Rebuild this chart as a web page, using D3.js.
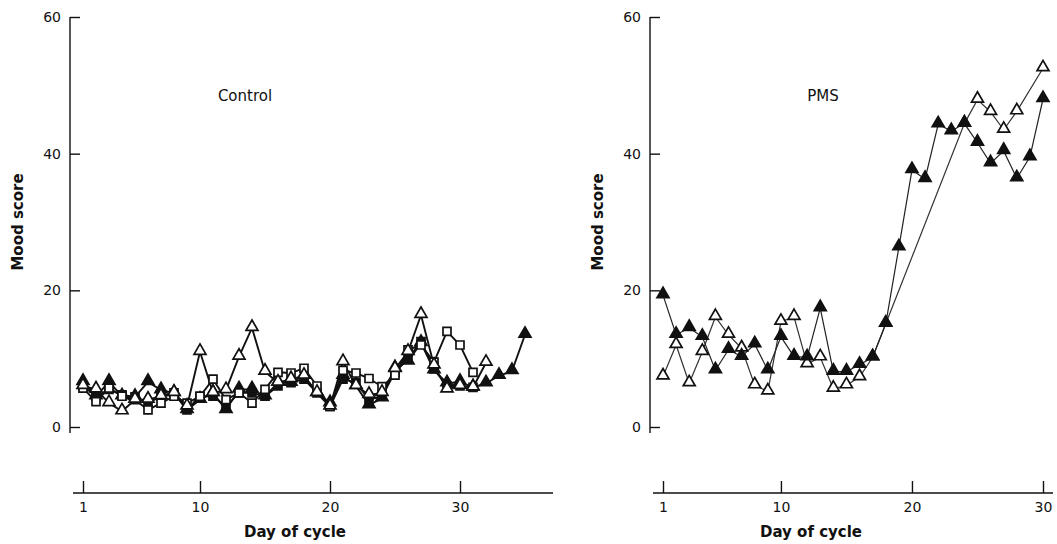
<!DOCTYPE html>
<html>
<head>
<meta charset="utf-8">
<script src="https://cdn.jsdelivr.net/npm/d3@7"></script>
<style>
  html, body { margin: 0; padding: 0; background: #fff; }
  svg { display: block; }
  text { font-family: "DejaVu Sans", "Liberation Sans", sans-serif; fill: #111; }
</style>
</head>
<body>
<svg id="chart" width="1057" height="544"></svg>
<script>
// ---------------- data ----------------
const yTicks = [0, 20, 40, 60];
const xTicks = [1, 10, 20, 30];

// Control panel (days start at 1)
const ctrlOpenTri    = [6.0,5.5,3.5,2.3,4.0,4.0,4.5,5.0,3.0,11.0,5.0,5.4,10.3,14.5,8.1,6.5,7.0,7.5,5.0,3.0,9.5,6.0,4.7,5.0,8.5,11.0,16.4,9.0,5.5,6.0,5.8,9.4];
const ctrlOpenSq     = [5.7,3.7,5.7,4.5,4.0,2.5,3.5,4.5,3.5,4.5,7.0,4.0,5.0,3.5,5.5,8.0,7.9,8.6,6.0,3.0,8.3,7.9,7.1,5.9,7.6,11.3,12.0,9.5,14.0,12.0,8.0];
const ctrlFilledTri  = [6.6,4.5,6.6,4.5,4.4,6.6,5.4,5.0,2.5,4.0,5.0,2.5,5.5,5.5,4.5,6.5,6.5,7.5,5.0,3.5,7.5,6.0,3.2,4.2,8.6,9.6,12.3,8.3,6.4,6.6,5.8,6.4,7.5,8.2,13.5];
const ctrlFilledSq   = [6.0,4.5,5.5,4.7,4.4,3.5,4.5,5.0,2.5,4.5,4.5,3.0,5.0,5.0,4.5,6.0,6.5,7.0,5.0,3.0,7.0,6.5,4.0,4.5,8.0,10.0,12.5,8.5,6.0,6.0,5.8];

// PMS panel (days start at 1, null = no observation)
const pmsFilledTri = [19.3,13.5,14.5,13.2,8.3,11.3,10.3,12.1,8.3,13.2,10.3,10.2,17.4,8.1,8.1,9.1,10.2,15.1,26.3,37.6,36.3,44.3,43.3,44.4,41.6,38.6,40.4,36.4,39.5,48.0];
const pmsOpenTri   = [7.4,12.0,6.4,11.0,16.1,13.5,11.5,6.1,5.2,15.4,16.1,9.2,10.2,5.6,6.1,7.3,10.2,15.1,null,null,null,null,null,44.4,47.9,46.1,43.5,46.2,null,52.5];

// ---------------- drawing ----------------
const svg = d3.select("#chart");

function toPoints(vals) {
  return vals.map((v, i) => ({ d: i + 1, v })).filter(p => p.v != null);
}

function panel(cfg) {
  const g = svg.append("g");
  const x = d3.scaleLinear().domain([1, 30]).range(cfg.xRange);
  const y = d3.scaleLinear().domain([0, 60]).range([427, 17]);

  // y axis
  const ya = g.append("g").attr("transform", `translate(${cfg.yAxisX},0)`)
    .call(d3.axisLeft(y).tickValues(yTicks).tickSize(-10).tickSizeOuter(0).tickPadding(9));
  ya.select(".domain").attr("d", `M0,${y(60)}V${y(0) + 6}`).attr("stroke", "#111").attr("stroke-width", 1.4);
  ya.selectAll(".tick line").attr("stroke", "#111").attr("stroke-width", 1.4);
  ya.selectAll(".tick text").style("font-size", "14px").style("font-family", "DejaVu Sans, sans-serif").attr("fill", "#111");

  // x axis
  const xa = g.append("g").attr("transform", `translate(0,493)`)
    .call(d3.axisBottom(x).tickValues(xTicks).tickSize(-12).tickSizeOuter(0).tickPadding(9));
  xa.select(".domain").attr("d", `M${cfg.xLine[0]},0H${cfg.xLine[1]}`).attr("stroke", "#111").attr("stroke-width", 1.6);
  xa.selectAll(".tick line").attr("stroke", "#111").attr("stroke-width", 1.4);
  xa.selectAll(".tick text").style("font-size", "14px").style("font-family", "DejaVu Sans, sans-serif").attr("fill", "#111");

  // labels
  g.append("text").attr("x", cfg.titleX).attr("y", 101).attr("text-anchor", "middle")
    .style("font-size", "15px").text(cfg.title);
  g.append("text").attr("transform", `translate(${cfg.yLabelX},222) rotate(-90)`)
    .attr("text-anchor", "middle").attr("dy", "0.35em")
    .style("font-size", "15px").style("font-weight", "bold").text("Mood score");
  g.append("text").attr("x", cfg.xLabelX).attr("y", 537).attr("text-anchor", "middle")
    .style("font-size", "15px").style("font-weight", "bold").text("Day of cycle");

  const line = d3.line().x(p => x(p.d)).y(p => y(p.v));

  cfg.series.forEach(s => {
    g.append("path").datum(toPoints(s.values))
      .attr("d", line).attr("fill", "none")
      .attr("stroke", s.lineColor || "#111").attr("stroke-width", s.lw || 1.9);
  });
  cfg.series.forEach(s => {
    const sym = d3.symbol().type(s.shape === "tri" ? d3.symbolTriangle : d3.symbolSquare)
      .size(s.shape === "tri" ? 62 : 64);
    g.append("g").selectAll("path").data(toPoints(s.values)).join("path")
      .attr("transform", p => `translate(${x(p.d)},${y(p.v) + (s.shape === "tri" ? -1 : 0)})`)
      .attr("d", sym)
      .attr("fill", s.filled ? "#111" : "#fff")
      .attr("stroke", "#111").attr("stroke-width", 1.7);
  });
}

panel({
  xRange: [83, 460], xLine: [73, 553], yAxisX: 70,
  title: "Control", titleX: 245, yLabelX: 18, xLabelX: 295,
  series: [
    { values: ctrlFilledSq, shape: "sq", filled: true },
    { values: ctrlFilledTri, shape: "tri", filled: true },
    { values: ctrlOpenSq, shape: "sq", filled: false },
    { values: ctrlOpenTri, shape: "tri", filled: false }
  ]
});

panel({
  xRange: [663, 1043], xLine: [653, 1053], yAxisX: 650,
  title: "PMS", titleX: 823, yLabelX: 598, xLabelX: 811,
  series: [
    { values: pmsOpenTri, shape: "tri", filled: false, lw: 1.2, lineColor: "#333" },
    { values: pmsFilledTri, shape: "tri", filled: true, lw: 1.2, lineColor: "#222" }
  ]
});
</script>
</body>
</html>
